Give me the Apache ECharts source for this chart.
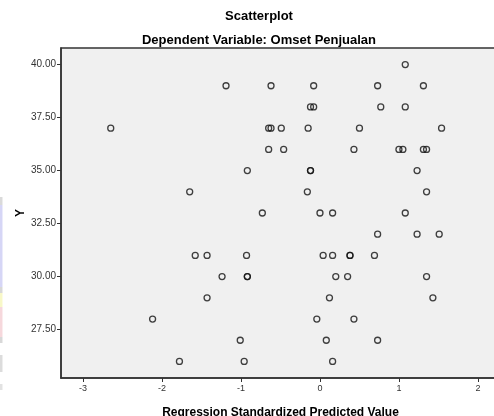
<!DOCTYPE html>
<html>
<head>
<meta charset="utf-8">
<script src="https://cdn.jsdelivr.net/npm/echarts@6/dist/echarts.min.js"></script>
<style>html,body{margin:0;padding:0;background:#fff;}#c{width:494px;height:416px;}</style>
</head>
<body>
<div id="c"></div>
<script>
// Regression standardized predicted value (x) and Omset Penjualan (y)
const xs = [
  1.08,
  -1.19, -0.62, -0.08, 0.73, 1.31,
  -0.12, -0.08, 0.77, 1.08,
  -2.65, -0.65, -0.62, -0.49, -0.15, 0.50, 1.54,
  -0.65, -0.46, 0.43, 1.00, 1.05, 1.31, 1.35,
  -0.92, -0.12, -0.12, 1.23,
  -1.65, -0.16, 1.35,
  -0.73, 0.00, 0.16, 1.08,
  0.73, 1.23, 1.51,
  -1.58, -1.43, -0.93, 0.04, 0.16, 0.38, 0.38, 0.69,
  -1.24, -0.92, -0.92, 0.20, 0.35, 1.35,
  -1.43, 0.12, 1.43,
  -2.12, -0.04, 0.43,
  -1.01, 0.08, 0.73,
  -1.78, -0.96, 0.16
];
const ys = [
  40,
  39, 39, 39, 39, 39,
  38, 38, 38, 38,
  37, 37, 37, 37, 37, 37, 37,
  36, 36, 36, 36, 36, 36, 36,
  35, 35, 35, 35,
  34, 34, 34,
  33, 33, 33, 33,
  32, 32, 32,
  31, 31, 31, 31, 31, 31, 31, 31,
  30, 30, 30, 30, 30, 30,
  29, 29, 29,
  28, 28, 28,
  27, 27, 27,
  26, 26, 26
];
const xTicks = [-3, -2, -1, 0, 1, 2];
const yTicks = [27.5, 30, 32.5, 35, 37.5, 40];

const points = xs.map((x, i) => [x, ys[i]]);

const chart = echarts.init(document.getElementById('c'), null, {renderer: 'canvas'});
const font = 'Arial, "Liberation Sans", sans-serif';
const stripes = [
  [197, 205, '#dadada'], [205, 287, '#d6d6f6'], [287, 293, '#d8d8d8'],
  [293, 307, '#f8f8c8'], [307, 337, '#f6d8dc'], [337, 343, '#d8d8d8'],
  [355, 372, '#dcdcdc'], [384, 390, '#e2e2e2']
];
chart.setOption({
  animation: false,
  backgroundColor: '#ffffff',
  title: [
    {text: 'Scatterplot', left: 254, top: 5, textAlign: 'center',
     textStyle: {fontFamily: font, fontSize: 13, fontWeight: 'bold', color: '#000'}},
    {text: 'Dependent Variable: Omset Penjualan', left: 254, top: 29, textAlign: 'center',
     textStyle: {fontFamily: font, fontSize: 13, fontWeight: 'bold', color: '#000'}}
  ],
  graphic: stripes.map(s => ({
    type: 'rect', shape: {x: 0, y: s[0], width: 2.5, height: s[1] - s[0]},
    style: {fill: s[2]}, silent: true
  })),
  grid: {left: 61, top: 48, width: 439, height: 330, show: true,
         outerBoundsMode: 'none', containLabel: false,
         backgroundColor: '#f0f0f0', borderColor: '#333', borderWidth: 1.5},
  xAxis: {
    type: 'value', min: -3.28, max: 2.28,
    name: 'Regression Standardized Predicted Value', nameLocation: 'middle', nameGap: 29,
    nameTextStyle: {fontFamily: font, fontSize: 12, fontWeight: 'bold', color: '#000'},
    axisLine: {show: true, onZero: false, lineStyle: {color: '#333', width: 1.5}},
    axisTick: {show: true, customValues: xTicks, length: 4, lineStyle: {color: '#333', width: 1}},
    axisLabel: {customValues: xTicks, fontFamily: font, fontSize: 9, color: '#333', margin: 6,
                formatter: v => String(v)},
    splitLine: {show: false}
  },
  yAxis: {
    type: 'value', min: 25.22, max: 40.78,
    name: 'Y', nameLocation: 'middle', nameGap: 34, nameRotate: 90, nameMoveOverlap: false,
    nameTextStyle: {fontFamily: font, fontSize: 12, fontWeight: 'bold', color: '#000'},
    axisLine: {show: true, onZero: false, lineStyle: {color: '#333', width: 1.5}},
    axisTick: {show: true, customValues: yTicks, length: 4, lineStyle: {color: '#333', width: 1}},
    axisLabel: {customValues: yTicks, fontFamily: font, fontSize: 10, color: '#333', margin: 5,
                formatter: v => Number(v).toFixed(2)},
    splitLine: {show: false}
  },
  series: [{
    type: 'scatter', data: points, symbol: 'circle', symbolSize: 6,
    itemStyle: {color: 'rgba(0,0,0,0)', borderColor: '#111', borderWidth: 1.3},
    emphasis: {disabled: true}
  }]
});
</script>
</body>
</html>
